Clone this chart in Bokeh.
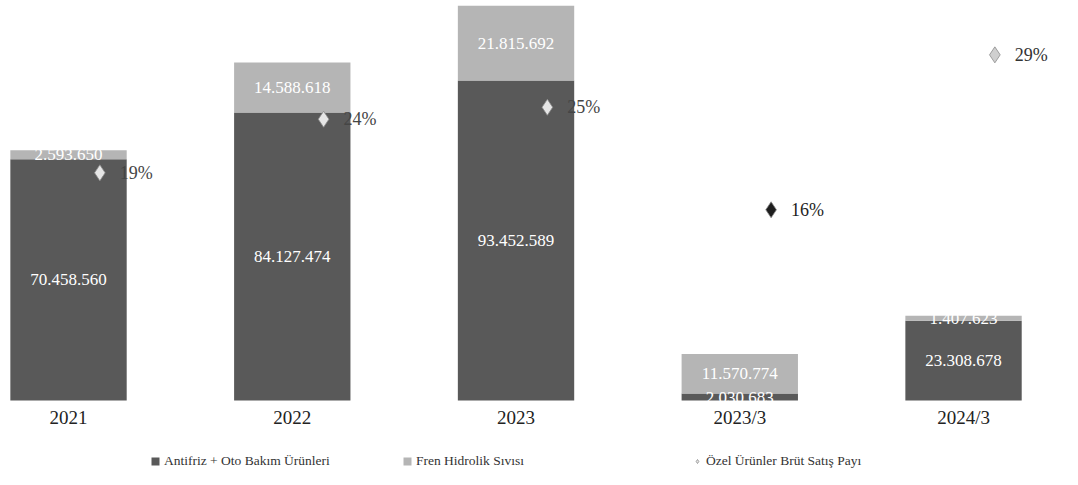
from bokeh.plotting import figure
from bokeh.models import ColumnDataSource, Range1d, FixedTicker, Legend, LegendItem
from bokeh.transform import dodge
from bokeh.core.properties import value
from bokeh.embed import file_html
from bokeh.resources import INLINE

# ---- data ----
years = ["2021", "2022", "2023", "2023/3", "2024/3"]
antifriz = [70458560, 84127474, 93452589, 2030683, 23308678]
fren = [2593650, 14588618, 21815692, 11570774, 1407623]
ozel_pay = [0.191, 0.236, 0.246, 0.16, 0.29]

# ---- styles ----
DARK = "#595959"
LIGHT = "#b5b5b5"
marker_colors = ["#e6e6e6", "#e6e6e6", "#e6e6e6", "#1e1e1e", "#cfcfcf"]
pct_label_colors = ["#454545", "#454545", "#454545", "#1e1e1e", "#333333"]
FONT = "Liberation Serif"

def fmt(v):
    return f"{v:,}".replace(",", ".")

xs = list(range(len(years)))
src = ColumnDataSource(dict(
    x=xs,
    antifriz=antifriz,
    fren=fren,
    a_mid=[a / 2 for a in antifriz],
    f_mid=[a + f / 2 for a, f in zip(antifriz, fren)],
    a_lab=[fmt(a) for a in antifriz],
    f_lab=[fmt(f) for f in fren],
    pay=ozel_pay,
    pay_lab=[f"{round(v * 100):.0f}%" for v in ozel_pay],
    mcol=marker_colors,
    lcol=pct_label_colors,
))

# frame 477 px tall; the value 0 sits 400 px below the top, leaving room
# underneath for the category labels and the legend
p = figure(frame_width=1072, frame_height=477,
           x_range=Range1d(-0.304, 4.487), y_range=Range1d(-22.49e6, 116.8e6),
           output_backend="svg", toolbar_location=None,
           y_axis_location=None,
           min_border_left=0, min_border_right=0, min_border_top=0, min_border_bottom=0)
p.extra_y_ranges = {"pct": Range1d(-0.0646, 0.3356)}
p.outline_line_color = None
p.xgrid.visible = False
p.ygrid.visible = False
p.background_fill_color = "white"

bars = p.vbar_stack(["antifriz", "fren"], x="x", width=0.52, source=src,
                    fill_color=[DARK, LIGHT], line_color=None)

p.text(x="x", y="a_mid", text="a_lab", source=src, text_color="white",
       text_align="center", text_baseline="middle",
       text_font=value(FONT), text_font_size="17px")
p.text(x="x", y="f_mid", text="f_lab", source=src, text_color="white",
       text_align="center", text_baseline="middle",
       text_font=value(FONT), text_font_size="17px")

pts = p.scatter(x=dodge("x", 0.14), y="pay", y_range_name="pct", source=src,
                marker="diamond", size=16, fill_color="mcol", line_color="#8a8a8a",
                line_width=0.8)
p.text(x=dodge("x", 0.14), y="pay", y_range_name="pct", source=src, text="pay_lab",
       x_offset=20, text_align="left", text_baseline="middle",
       text_color="lcol", text_font=value(FONT), text_font_size="18px")

ax = p.xaxis[0]
ax.fixed_location = 0
ax.ticker = FixedTicker(ticks=xs, minor_ticks=[])
ax.major_label_overrides = {i: y for i, y in enumerate(years)}
ax.axis_line_color = None
ax.major_tick_line_color = None
ax.minor_tick_line_color = None
ax.major_tick_out = 0
ax.major_tick_in = 0
ax.minor_tick_out = 0
ax.minor_tick_in = 0
ax.major_label_standoff = 7
ax.major_label_text_font = FONT
ax.major_label_text_font_size = "19px"
ax.major_label_text_color = "#222222"

def make_legend(label, rend, loc):
    lg = Legend(items=[LegendItem(label=label, renderers=[rend])], location=loc,
                orientation="horizontal")
    lg.label_text_font = FONT
    lg.label_text_font_size = "13.5px"
    lg.label_text_color = "#333333"
    lg.border_line_color = None
    lg.background_fill_alpha = 0
    lg.glyph_width = 10
    lg.glyph_height = 10
    lg.label_height = 14
    lg.label_standoff = 4
    lg.margin = 0
    lg.padding = 0
    p.add_layout(lg, "center")

make_legend("Antifriz + Oto Bakım Ürünleri", bars[0], (150, 8))
make_legend("Fren Hidrolik Sıvısı", bars[1], (402, 8))
make_legend("Özel Ürünler Brüt Satış Payı", pts, (692, 8))

open("out.html", "w").write(file_html(p, INLINE))
